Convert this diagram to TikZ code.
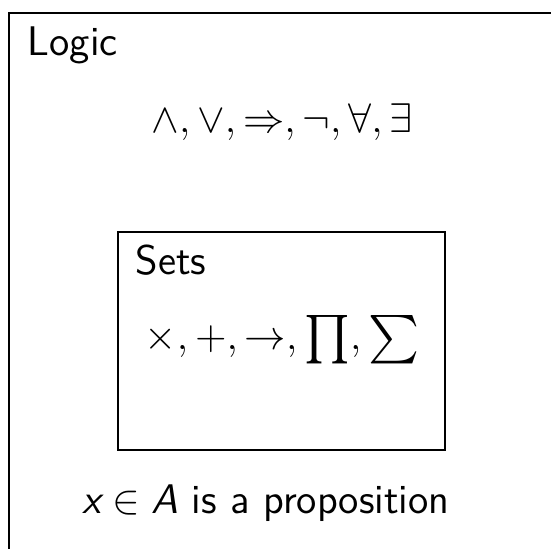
\documentclass[tikz,border=0pt,12pt]{standalone}
\usepackage{amsmath, amssymb}
\usepackage{graphicx}
\usepackage{tikz}
\newcommand{\sfvar}[1]{\textsf{\itshape #1}}
\newcommand{\opbig}[1]{\mathop{\vcenter{\hbox{\scalebox{1.17}{$\textstyle#1$}}}}}
\tikzset{
  titletext/.style={anchor=base west,inner sep=0pt,font=\sffamily},
  optext/.style={anchor=base,inner sep=0pt}
}

\begin{document}
\begin{tikzpicture}[x=0.290pt,y=-0.290pt]
\useasboundingbox (0,0) rectangle (551,549);
\clip (0,0) rectangle (551,549);

%========================
% Riquadro esterno
%========================

\draw (9,13) rectangle (600,600);

\node[titletext] (logic) at (27,56) {Logic};
\node[optext] (logicops) at (282,133)
  {$\wedge, \vee, \Rightarrow, \neg, \forall, \exists$};

%========================
% Riquadro interno
%========================

\draw (118,232) rectangle (445,450);

\node[titletext] (sets) at (135,275) {Sets};
\node[optext] (setsops) at (282,350)
  {$\times, +, \to, \opbig{\prod}, \opbig{\sum}$};

%========================
% Riga in fondo
%========================

\node[optext,font=\sffamily] (prop) at (266,514)
  {$\sfvar{x} \in \sfvar{A}$ is a proposition};
\end{tikzpicture}
\end{document}
